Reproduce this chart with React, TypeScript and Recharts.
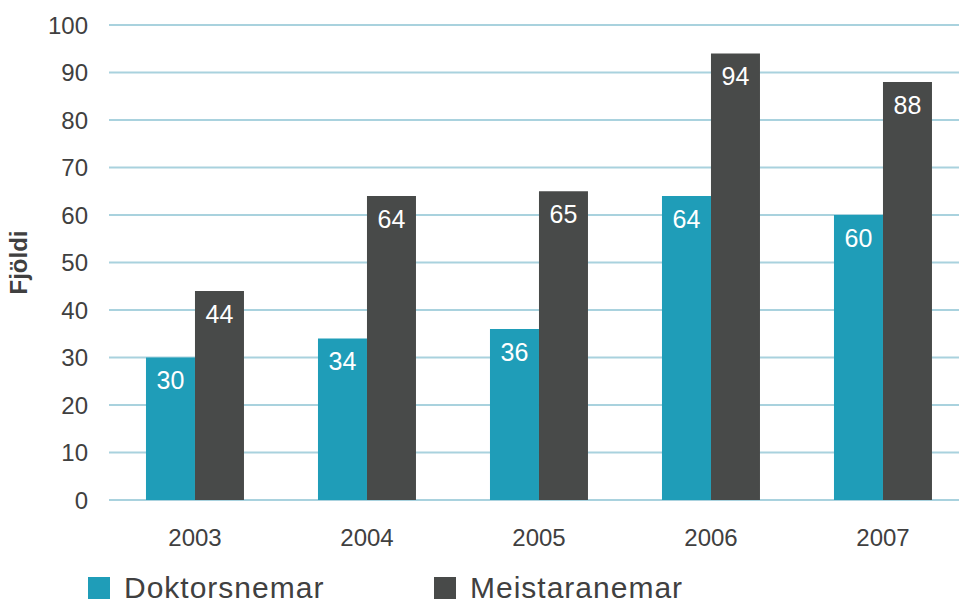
import { BarChart, Bar, XAxis, YAxis, CartesianGrid, Legend, LabelList } from 'recharts'

const years = ['2003', '2004', '2005', '2006', '2007']
const doktorsnemar = [30, 34, 36, 64, 60]
const meistaranemar = [44, 64, 65, 94, 88]
const yTicks = [0, 10, 20, 30, 40, 50, 60, 70, 80, 90, 100]

const data = years.map((year, i) => ({
  year,
  doktorsnemar: doktorsnemar[i],
  meistaranemar: meistaranemar[i],
}))

const font = '"Liberation Sans", Arial, sans-serif'
const textColor = '#404040'

function renderLegend(props: any) {
  const { payload } = props
  return (
    <div style={{ display: 'flex', fontFamily: font, fontSize: 30, lineHeight: '30px', color: textColor, letterSpacing: 1 }}>
      {payload.map((entry: any, i: number) => (
        <div key={entry.value} style={{ display: 'flex', alignItems: 'center', width: i === 0 ? 346 : 300 }}>
          <span style={{ display: 'inline-block', width: 22, height: 22, background: entry.color, marginRight: 14 }} />
          <span>{entry.value}</span>
        </div>
      ))}
    </div>
  )
}

export default function App() {
  return (
    <div style={{ position: 'absolute', left: 0, top: 0, width: 959, height: 603, overflow: 'hidden', background: '#fff' }}>
      <BarChart
        width={980}
        height={603}
        data={data}
        margin={{ top: 25, right: 11, bottom: 0, left: 0 }}
        barGap={0}
        barCategoryGap="21.5%"
      >
        <CartesianGrid vertical={false} stroke="#a9d2de" strokeWidth={2} />
        <XAxis
          dataKey="year"
          axisLine={false}
          tickLine={false}
          tickSize={0}
          tickMargin={29}
          height={73}
          tick={{ fill: textColor, fontSize: 24, fontFamily: font }}
        />
        <YAxis
          width={109}
          domain={[0, 100]}
          ticks={yTicks}
          interval={0}
          axisLine={false}
          tickLine={false}
          tickSize={0}
          tickMargin={21}
          tick={{ fill: textColor, fontSize: 24, fontFamily: font }}
          label={{
            value: 'Fjöldi',
            angle: -90,
            position: 'insideLeft',
            offset: 18,
            style: { fill: textColor, fontSize: 24, fontWeight: 'bold', fontFamily: font, textAnchor: 'middle' },
          }}
        />
        <Legend
          verticalAlign="bottom"
          align="left"
          content={renderLegend}
          wrapperStyle={{ left: 88, top: 573, height: 30, width: 700 }}
        />
        <Bar dataKey="doktorsnemar" name="Doktorsnemar" fill="#1f9db8" isAnimationActive={false}>
          <LabelList dataKey="doktorsnemar" position="insideTop" offset={14} fill="#fff" fontSize={25} fontFamily={font} />
        </Bar>
        <Bar dataKey="meistaranemar" name="Meistaranemar" fill="#484a49" isAnimationActive={false}>
          <LabelList dataKey="meistaranemar" position="insideTop" offset={14} fill="#fff" fontSize={25} fontFamily={font} />
        </Bar>
      </BarChart>
    </div>
  )
}
